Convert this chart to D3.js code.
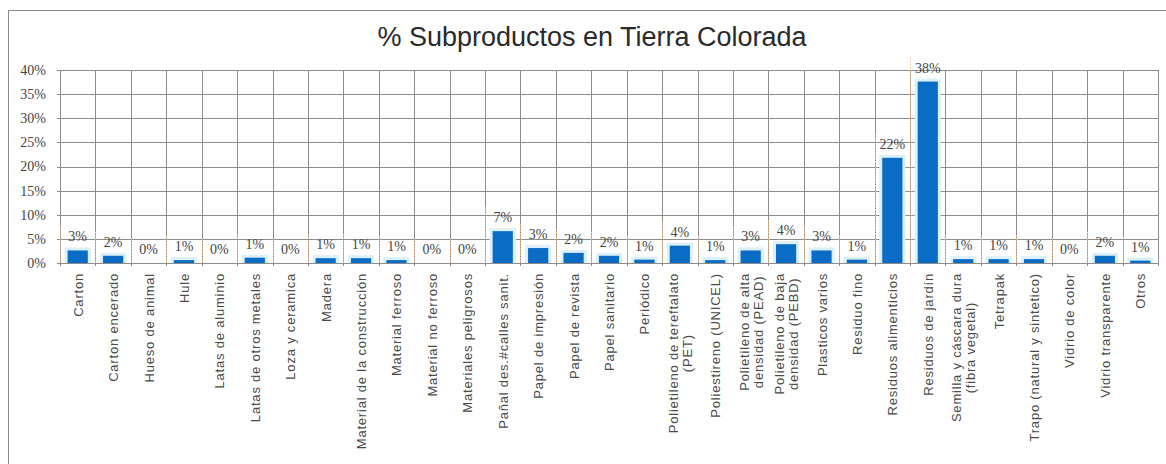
<!DOCTYPE html>
<html>
<head>
<meta charset="utf-8">
<script src="https://cdn.jsdelivr.net/npm/d3@7"></script>
<style>
  body { margin: 0; background: #fff; }
</style>
</head>
<body>
<div id="grafica"></div>
<script>
// categorias (cada elemento es una linea del rotulo)
var categorias = [
  ["Carton"], ["Carton encerado"], ["Hueso de animal"], ["Hule"],
  ["Latas de aluminio"], ["Latas de otros metales"], ["Loza y ceramica"],
  ["Madera"], ["Material de la construcción"], ["Material ferroso"],
  ["Material no ferroso"], ["Materiales peligrosos"], ["Pañal des.#calles sanit."],
  ["Papel de impresión"], ["Papel de revista"], ["Papel sanitario"], ["Periódico"],
  ["Polietileno de tereftalato", "(PET)"], ["Poliestireno (UNICEL)"],
  ["Polietileno de alta", "densidad (PEAD)"], ["Polietileno de baja", "densidad (PEBD)"],
  ["Plasticos varios"], ["Residuo fino"], ["Residuos alimenticios"],
  ["Residuos de jardín"], ["Semilla y cáscara dura", "(fibra vegetal)"],
  ["Tetrapak"], ["Trapo (natural y sintetico)"], ["Vidrio de color"],
  ["Vidrio transparente"], ["Otros"]
];

// porcentajes
var porcentajes = [
  2.6, 1.5, 0.0, 0.6,
  0.0, 1.1, 0.0,
  1.0, 1.0, 0.6,
  0.0, 0.0, 6.6,
  3.1, 2.1, 1.5, 0.7,
  3.6, 0.6,
  2.6, 3.9,
  2.6, 0.7, 21.8,
  37.6, 0.8,
  0.8, 0.8, 0.0,
  1.5, 0.5
];

var ticksY = [0, 5, 10, 15, 20, 25, 30, 35, 40];

var ancho = 1166, alto = 464;
var margin = {top: 70, right: 8, bottom: 201, left: 60};

var svg = d3.select("#grafica")
  .append("svg")
  .attr("width", ancho)
  .attr("height", alto)
  .style("display", "block");

// marco del grafico
svg.append("rect")
  .attr("x", 8.5).attr("y", 10.5)
  .attr("width", ancho + 20).attr("height", alto + 20)
  .attr("fill", "#fff")
  .attr("stroke", "#8a8a8a");

// titulo
svg.append("text")
  .attr("x", 592).attr("y", 46)
  .attr("text-anchor", "middle")
  .style("font-family", "'Liberation Sans', Arial, sans-serif")
  .style("font-size", "27px")
  .attr("fill", "#2a2a2a")
  .text("% Subproductos en Tierra Colorada");

var claves = categorias.map(function(d) { return d.join(" "); });

var x = d3.scaleBand()
  .domain(claves)
  .range([margin.left, ancho - margin.right])
  .padding(0);

var y = d3.scaleLinear()
  .domain([0, 40])
  .range([alto - margin.bottom, margin.top]);

// rejilla horizontal
svg.append("g")
  .selectAll("line")
  .data(ticksY)
  .enter()
  .append("line")
  .attr("x1", margin.left - 3)
  .attr("x2", ancho - margin.right)
  .attr("y1", function(d) { return Math.round(y(d)) + 0.5; })
  .attr("y2", function(d) { return Math.round(y(d)) + 0.5; })
  .attr("stroke", "#8c8c8c");

// rejilla vertical (limites de cada categoria)
var limites = claves.map(function(d) { return x(d); }).concat([x.range()[1]]);
svg.append("g")
  .selectAll("line")
  .data(limites)
  .enter()
  .append("line")
  .attr("x1", function(d) { return Math.round(d) + 0.5; })
  .attr("x2", function(d) { return Math.round(d) + 0.5; })
  .attr("y1", y(40))
  .attr("y2", y(0) + 3)
  .attr("stroke", "#8c8c8c");

// guias naranjas desde cada etiqueta hasta la base
svg.append("g")
  .selectAll("line")
  .data(porcentajes)
  .enter()
  .append("line")
  .attr("x1", function(d, i) { return Math.round(x(claves[i])) + 0.5; })
  .attr("x2", function(d, i) { return Math.round(x(claves[i])) + 0.5; })
  .attr("y1", function(d) { return y(d) - 24; })
  .attr("y2", y(0))
  .attr("stroke", "#f2c28e")
  .attr("stroke-opacity", 0.8)
  .attr("stroke-dasharray", "2,1");

// eje Y
var ejeY = d3.axisLeft(y)
  .tickValues(ticksY)
  .tickSize(0)
  .tickPadding(14)
  .tickFormat(function(d) { return d + "%"; });

svg.append("g")
  .attr("transform", "translate(" + margin.left + ",0)")
  .call(ejeY)
  .call(function(g) { g.select(".domain").remove(); })
  .selectAll("text")
  .style("font-family", "'Liberation Serif', 'Times New Roman', serif")
  .style("font-size", "14px")
  .attr("fill", "#444");

var anchoBarra = x.bandwidth() * 0.57;

// halo claro de las barras
svg.append("g")
  .selectAll("rect")
  .data(porcentajes)
  .enter()
  .append("rect")
  .attr("x", function(d, i) { return x(claves[i]) + (x.bandwidth() - anchoBarra) / 2 - 3; })
  .attr("y", function(d) { return y(d) - 3; })
  .attr("width", anchoBarra + 6)
  .attr("height", function(d) { return y(0) - y(d) + 3; })
  .attr("fill", "#dcf0fa")
  .attr("opacity", function(d) { return d > 0 ? 1 : 0; });

// barras
svg.append("g")
  .selectAll("rect")
  .data(porcentajes)
  .enter()
  .append("rect")
  .attr("x", function(d, i) { return x(claves[i]) + (x.bandwidth() - anchoBarra) / 2; })
  .attr("y", function(d) { return y(d); })
  .attr("width", anchoBarra)
  .attr("height", function(d) { return y(0) - y(d); })
  .attr("fill", "#0a6cc4");

// etiquetas de valor
svg.append("g")
  .selectAll("text")
  .data(porcentajes)
  .enter()
  .append("text")
  .attr("x", function(d, i) { return x(claves[i]) + x.bandwidth() / 2; })
  .attr("y", function(d) { return y(d) - 9; })
  .attr("text-anchor", "middle")
  .style("font-family", "'Liberation Serif', 'Times New Roman', serif")
  .style("font-size", "14px")
  .attr("fill", "#444")
  .text(function(d) { return Math.round(d) + "%"; });

// rotulos de categorias, girados
var interlinea = 14;
var rotulos = svg.append("g")
  .selectAll("text")
  .data(categorias)
  .enter()
  .append("text")
  .attr("transform", function(d, i) {
    var cx = x(claves[i]) + x.bandwidth() / 2;
    var desplaza = (d.length - 1) * interlinea / 2;
    return "translate(" + (cx + 5 - desplaza) + "," + (y(0) + 10) + ")rotate(-90)";
  })
  .style("font-family", "'Liberation Sans', Arial, sans-serif")
  .style("font-size", "13px")
  .style("letter-spacing", "0.8px")
  .attr("fill", "#4a4a4a");

rotulos.each(function(lineas) {
  var t = d3.select(this);
  var largo = 0;
  lineas.forEach(function(linea, j) {
    var ts = t.append("tspan")
      .attr("x", 0)
      .attr("dy", j === 0 ? 0 : interlinea)
      .attr("text-anchor", "end")
      .text(linea);
    if (j === 0) largo = ts.node().getComputedTextLength();
    else {
      var l2 = ts.node().getComputedTextLength();
      ts.attr("x", -(largo - l2) / 2);
    }
  });
});
</script>
</body>
</html>
